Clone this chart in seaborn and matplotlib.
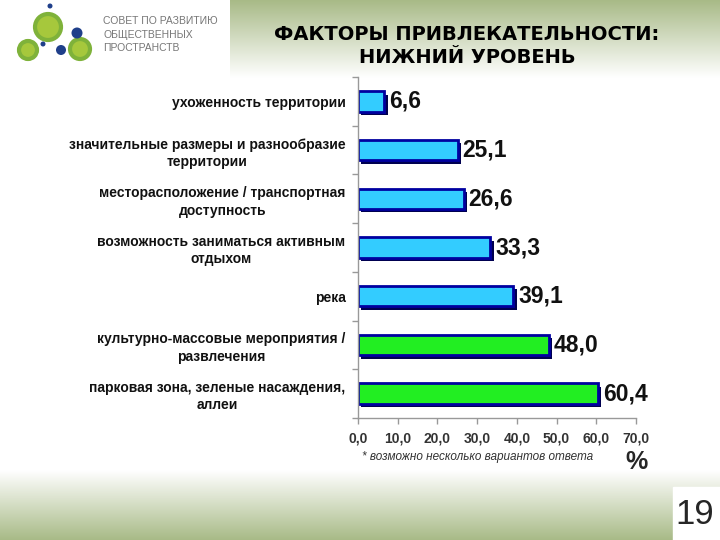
import numpy as np
import pandas as pd
import seaborn as sns
import matplotlib.pyplot as plt
import matplotlib.patheffects as pe
from matplotlib.patches import Circle, Rectangle

### 0. Data ==============================================================
categories = [
    "ухоженность территории",
    "значительные размеры и разнообразие\nтерритории",
    "месторасположение / транспортная\nдоступность",
    "возможность заниматься активным\nотдыхом",
    "река",
    "культурно-массовые мероприятия /\nразвлечения",
    "парковая зона, зеленые насаждения,\nаллеи",
]
values = [6.6, 25.1, 26.6, 33.3, 39.1, 48.0, 60.4]
bar_colors = ["#33CCFF"] * 5 + ["#22EE22"] * 2
x_ticks = [0, 10, 20, 30, 40, 50, 60, 70]

df = pd.DataFrame({"factor": categories, "pct": values})

### 1. Figure + background ===============================================
sns.set_theme(style="white")
plt.rcParams["font.family"] = ["Liberation Sans", "DejaVu Sans"]

fig = plt.figure(figsize=(7.2, 5.4), dpi=100)
bg = fig.add_axes([0, 0, 1, 1], zorder=0)
bg.set_xlim(0, 720)
bg.set_ylim(540, 0)
bg.axis("off")

green = np.array([0.66, 0.73, 0.53])
white = np.array([1.0, 1.0, 1.0])

# top banner gradient (green -> white)
t = np.linspace(0, 1, 100)[:, None, None]
top_grad = green * (1 - t) + white * t
top_grad = np.repeat(top_grad, 2, axis=1)
bg.imshow(top_grad, extent=(230, 720, 78, 0), aspect="auto", zorder=0)

# bottom band gradient (white -> green)
bot_grad = white * (1 - t) + green * t
bot_grad = np.repeat(bot_grad, 2, axis=1)
bg.imshow(bot_grad, extent=(0, 720, 540, 470), aspect="auto", zorder=0)
bg.add_patch(Rectangle((673, 487), 47, 53, color="white", zorder=1))

# logo
for cx, cy, r, fc, ec in [
    (48, 27, 13, "#a6c83c", "#7fb23a"),
    (28, 50, 9, "#a6c83c", "#7fb23a"),
    (80, 49, 10, "#a6c83c", "#7fb23a"),
]:
    bg.add_patch(Circle((cx, cy), r, fc=fc, ec=ec, lw=3, zorder=2))
for cx, cy, r in [(77, 33, 5.5), (61, 50, 5), (43, 44, 2.5), (50, 6, 2.5)]:
    bg.add_patch(Circle((cx, cy), r, fc="#1f3f8a", ec="none", zorder=2))
bg.text(103, 16, "СОВЕТ ПО РАЗВИТИЮ\nОБЩЕСТВЕННЫХ\nПРОСТРАНСТВ", fontsize=7.5,
        color="#777777", va="top", ha="left", linespacing=1.45, zorder=3)

# title
bg.text(467, 46, "ФАКТОРЫ ПРИВЛЕКАТЕЛЬНОСТИ:\nНИЖНИЙ УРОВЕНЬ", fontsize=14,
        fontweight="bold", ha="center", va="center", linespacing=1.25,
        color="black", family="DejaVu Sans", zorder=3)

# footnote, unit, slide number
bg.text(362, 457, "* возможно несколько вариантов ответа", fontsize=8.5,
        style="italic", color="#333333", ha="left", va="center", zorder=3)
bg.text(636, 462, "%", fontsize=18, fontweight="bold", ha="center",
        va="center", zorder=3)
bg.text(695, 515, "19", fontsize=25, ha="center", va="center", zorder=3)

### 2. Bar chart =========================================================
ax = fig.add_axes([358 / 720, 1 - 418 / 540, 278 / 720, 341 / 540], zorder=2)
ax.patch.set_alpha(0)

sns.barplot(
    data=df, x="pct", y="factor", hue="factor", palette=bar_colors,
    legend=False, orient="h", width=0.42, saturation=1,
    edgecolor="#0000A0", linewidth=2, ax=ax,
)

shadow = [pe.SimplePatchShadow(offset=(2.5, -2.5), shadow_rgbFace="#000050",
                               alpha=1.0), pe.Normal()]
for bar in ax.patches:
    bar.set_path_effects(shadow)

for i, v in enumerate(values):
    ax.text(v + 1.2, i, f"{v:.1f}".replace(".", ","), fontsize=16.5,
            fontweight="bold", ha="left", va="center", color="#111111")

ax.set_xlim(0, 70)
ax.set_ylim(len(values) - 0.5, -0.5)
ax.set_xticks(x_ticks)
ax.set_xticklabels([f"{x:.1f}".replace(".", ",") for x in x_ticks],
                   fontsize=10, fontweight="bold", color="#333333")
ax.set_yticks(range(len(categories)))
ax.set_yticklabels(categories, fontsize=10, fontweight="bold",
                   multialignment="center", linespacing=1.3, color="#111111")
ax.set_yticks(np.arange(-0.5, len(categories), 1), minor=True)
ax.tick_params(axis="y", which="major", length=0, pad=9)
ax.tick_params(axis="y", which="minor", length=4, color="#999999", width=1,
               left=True)
ax.tick_params(axis="x", length=4, color="#999999", width=1, bottom=True,
               pad=6)
ax.set_xlabel("")
ax.set_ylabel("")

for side in ["top", "right"]:
    ax.spines[side].set_visible(False)
for side in ["left", "bottom"]:
    ax.spines[side].set_color("#999999")
    ax.spines[side].set_linewidth(1)

fig.savefig("out.png", dpi=100)
